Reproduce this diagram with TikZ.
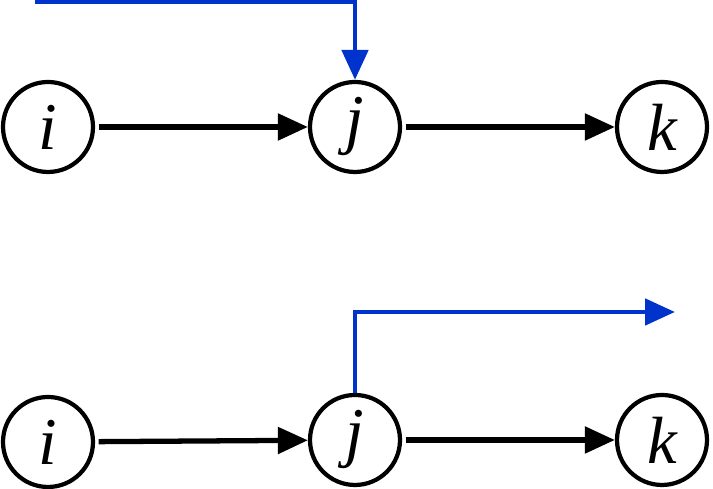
\documentclass[tikz,border=0pt]{standalone}
\usepackage{fontspec}
\setmainfont{Liberation Serif}
\usetikzlibrary{arrows.meta}
\definecolor{flowblue}{RGB}{0,51,204}
\begin{document}
\begin{tikzpicture}[
    % Styles
    vertex/.style={draw, circle, line width=1.2pt, minimum size=0.9cm, inner sep=0pt, font=\fontsize{19}{22}\selectfont\itshape},
    edge/.style={-{Triangle[length=0.3cm,width=0.26cm]}, line width=1.5pt, black, shorten <=1pt},
    flow/.style={-{Triangle[length=0.3cm,width=0.26cm]}, line width=1.4pt, flowblue},
]
\useasboundingbox (0,0) rectangle (7.13,4.89);

% TOP: flow enters j
\node[vertex] (i1) at (0.48, 3.62) {i};
\node[vertex] (j1) at (3.55, 3.62) {j};
\node[vertex] (k1) at (6.62, 3.62) {k};
\draw[edge] (i1) -- (j1);
\draw[edge] (j1) -- (k1);
\coordinate (in) at (0.35, 4.87);
\draw[flow] (in) -| (j1.north);

% BOTTOM: flow leaves j
\node[vertex] (i2) at (0.48, 0.47) {i};
\node[vertex] (j2) at (3.55, 0.49) {j};
\node[vertex] (k2) at (6.62, 0.49) {k};
\draw[edge] (i2) -- (j2);
\draw[edge] (j2) -- (k2);
\coordinate (out) at (6.75, 1.77);
\draw[flow] (j2.north) |- (out);

\end{tikzpicture}
\end{document}
